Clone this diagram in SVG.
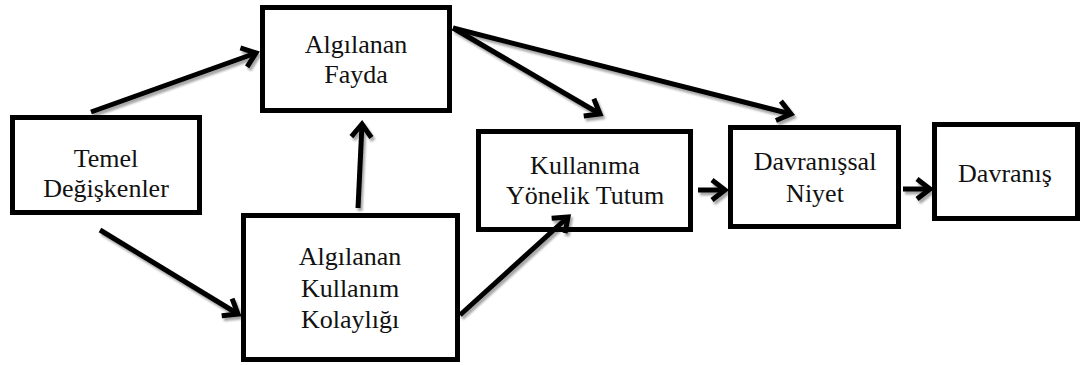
<svg xmlns="http://www.w3.org/2000/svg" width="1090" height="365" viewBox="0 0 1090 365">
<style>
.box{fill:#fff;stroke:#000;stroke-width:5}
.t{font-family:"Liberation Serif","Times New Roman",serif;font-size:26px;fill:#111;text-anchor:middle}
.c{stroke:#000;stroke-width:5;fill:none;marker-end:url(#ah)}
</style>
<defs>
<marker id="ah" markerUnits="userSpaceOnUse" viewBox="-20 -15 25 30" refX="0" refY="0" markerWidth="25" markerHeight="30" orient="auto">
<path d="M-13,-10 L0,0 L-13,10" fill="none" stroke="#000" stroke-width="5" stroke-linejoin="miter"/>
</marker>
<filter id="sh" x="-10%" y="-10%" width="130%" height="130%">
<feDropShadow dx="2" dy="3" stdDeviation="1" flood-color="#000" flood-opacity="0.35"/>
</filter>
</defs>
<g id="fayda"><rect class="box" x="262.5" y="7.5" width="187" height="103"/><text class="t" x="356" y="53">Algılanan</text><text class="t" x="356" y="83">Fayda</text></g>
<g id="temel"><rect class="box" x="12.5" y="117.5" width="187" height="95"/><text class="t" x="106" y="167">Temel</text><text class="t" x="106" y="197">Değişkenler</text></g>
<g id="kolaylik"><rect class="box" x="243.5" y="215.5" width="214" height="144"/><text class="t" x="350" y="265">Algılanan</text><text class="t" x="350" y="297">Kullanım</text><text class="t" x="350" y="328">Kolaylığı</text></g>
<g id="tutum"><rect class="box" x="478.5" y="131.5" width="212" height="98"/><text class="t" x="585" y="174">Kullanıma</text><text class="t" x="585" y="204">Yönelik Tutum</text></g>
<g id="niyet"><rect class="box" x="730.5" y="127.5" width="168" height="99"/><text class="t" x="815" y="170">Davranışsal</text><text class="t" x="815" y="202">Niyet</text></g>
<g id="davranis"><rect class="box" x="934.5" y="124.5" width="143" height="94"/><text class="t" x="1005" y="182">Davranış</text></g>
<g id="connectors" filter="url(#sh)">
<line class="c" x1="91" y1="112" x2="256" y2="53"/>
<line class="c" x1="358" y1="208" x2="362" y2="124"/>
<line class="c" x1="100" y1="230" x2="238" y2="314"/>
<line class="c" x1="460" y1="315" x2="568" y2="217"/>
<line class="c" x1="453" y1="28" x2="600" y2="114"/>
<line class="c" x1="453" y1="28" x2="791" y2="114"/>
<line class="c" x1="698" y1="190" x2="725" y2="190"/>
<line class="c" x1="903" y1="189" x2="930" y2="189"/>
</g>
</svg>
